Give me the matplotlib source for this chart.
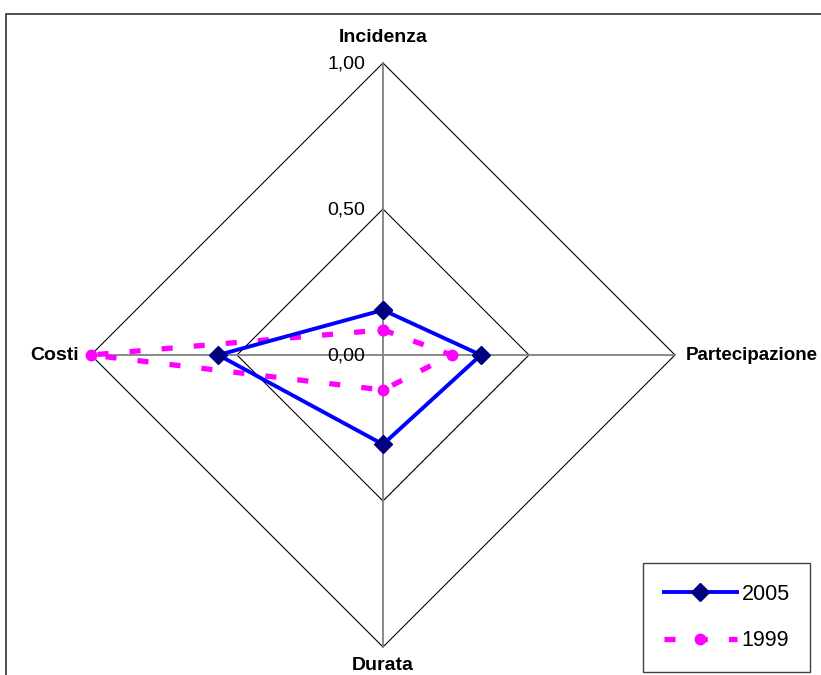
import numpy as np
import matplotlib
matplotlib.use('Agg')
import matplotlib.pyplot as plt
from matplotlib.patches import Rectangle

plt.rcParams['font.family'] = ['Liberation Sans', 'DejaVu Sans']

### Data (radar, clockwise from top)
axes_labels = ['Incidenza', 'Partecipazione', 'Durata', 'Costi']
angles_deg = [90, 0, 270, 180]
v2005 = [0.154, 0.335, 0.306, 0.564]
v1999 = [0.086, 0.235, 0.120, 1.00]
grid_levels = [0.5, 1.0]
tick_levels = [0.0, 0.5, 1.0]
tick_text = ['0,00', '0,50', '1,00']

ang = np.deg2rad(angles_deg)


def to_xy(vals):
    vals = np.asarray(vals, dtype=float)
    x = vals * np.cos(ang)
    y = vals * np.sin(ang)
    return np.append(x, x[0]), np.append(y, y[0])


### Figure: 1 data unit = 292 px, centre at pixel (383, 355)
W, H = 821, 675
cx, cy, R = 383, 355, 292
fig = plt.figure(figsize=(W / 100, H / 100), dpi=100)
ax = fig.add_axes([0, 0, 1, 1])
ax.set_xlim(-cx / R, (W - cx) / R)
ax.set_ylim(-(H - cy) / R, cy / R)
ax.axis('off')

# chart area border
fig.patches.append(Rectangle((6 / W, -0.02), 1.05, 1 - 14 / H + 0.02,
                             transform=fig.transFigure, fill=False,
                             edgecolor='#404040', lw=1.3, zorder=0))

# diamond grid
for g in grid_levels:
    gx, gy = to_xy([g] * 4)
    ax.plot(gx, gy, color='black', lw=0.8, zorder=1)

# spokes
for a in ang:
    ax.plot([0, np.cos(a)], [0, np.sin(a)], color='#808080', lw=1.3, zorder=1)

# tick labels on the vertical axis
for t, s in zip(tick_levels, tick_text):
    ax.text(-0.062, t - 0.005, s, ha='right', va='center', fontsize=14)

# axis labels
ax.text(0, 1.089, axes_labels[0], ha='center', va='center', fontsize=14, fontweight='bold')
ax.text(1.038, 0, axes_labels[1], ha='left', va='center', fontsize=13.5, fontweight='bold')
ax.text(0, -1.063, axes_labels[2], ha='center', va='center', fontsize=14, fontweight='bold')
ax.text(-1.04, 0, axes_labels[3], ha='right', va='center', fontsize=14, fontweight='bold')

# series
x5, y5 = to_xy(v2005)
x9, y9 = to_xy(v1999)
ax.plot(x9, y9, color='#FF00FF', lw=3.8, dashes=(2.1, 4.0), dash_capstyle='butt',
        marker='o', markersize=7.5, markerfacecolor='#FF00FF', markeredgecolor='#FF00FF',
        label='1999', zorder=3)
ax.plot(x5, y5, color='#0000FF', lw=2.8, marker='D', markersize=9,
        markerfacecolor='#000080', markeredgecolor='#000080', label='2005', zorder=4)

handles, labels = ax.get_legend_handles_labels()
leg = ax.legend(handles[::-1], labels[::-1], loc='center',
                bbox_to_anchor=(726.7 / W, 1 - 617.5 / H), bbox_transform=fig.transFigure,
                borderaxespad=0, fontsize=15.5, frameon=True, fancybox=False,
                edgecolor='#404040', framealpha=1, handlelength=3.4, handletextpad=0.2,
                labelspacing=1.2, borderpad=0.95)
leg.get_frame().set_linewidth(1.0)

fig.savefig('out.png', dpi=100)
